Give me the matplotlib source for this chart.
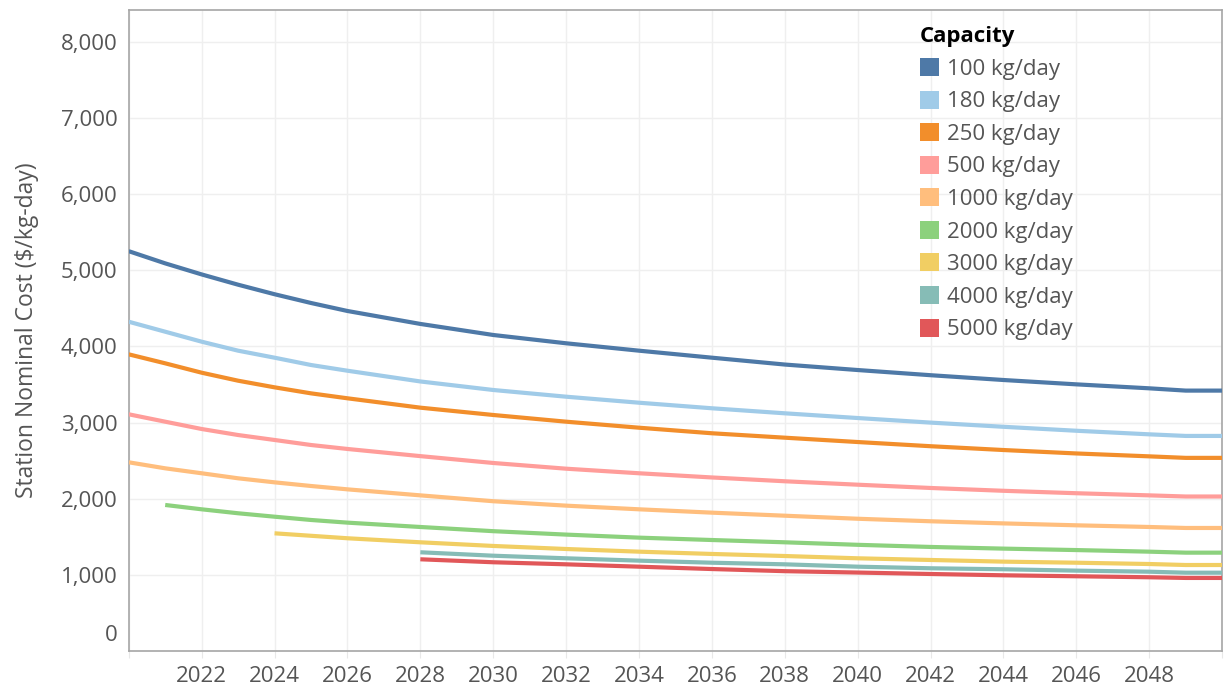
import numpy as np
import matplotlib
matplotlib.use('Agg')
from matplotlib import pyplot as plt
from matplotlib.patches import Patch
import matplotlib.transforms as mtransforms

plt.rcParams['font.family'] = ['Open Sans', 'DejaVu Sans']

# years (yearly where the curves bend most, then 2-year steps)
years_main = [2020, 2021, 2022, 2023, 2024, 2025, 2026, 2028, 2030, 2032, 2034,
              2036, 2038, 2040, 2042, 2044, 2046, 2048, 2049, 2050]
years_2000 = [2021, 2022, 2023, 2024, 2025, 2026, 2028, 2030, 2032, 2034,
              2036, 2038, 2040, 2042, 2044, 2046, 2048, 2049, 2050]
years_3000 = [2024, 2026, 2028, 2030, 2032, 2034, 2036, 2038,
              2040, 2042, 2044, 2046, 2048, 2049, 2050]
years_late = [2028, 2030, 2032, 2034, 2036, 2038,
              2040, 2042, 2044, 2046, 2048, 2049, 2050]

cost_100 = [5250, 5090, 4945, 4810, 4685, 4570, 4465, 4295, 4150, 4041, 3944,
            3852, 3762, 3690, 3622, 3559, 3502, 3450, 3420, 3420]
cost_180 = [4324, 4193, 4062, 3944, 3852, 3756, 3681, 3540, 3428, 3340, 3261,
            3188, 3122, 3060, 3000, 2945, 2893, 2846, 2825, 2825]
cost_250 = [3896, 3778, 3655, 3550, 3463, 3384, 3319, 3196, 3100, 3012, 2933,
            2860, 2802, 2745, 2690, 2640, 2595, 2557, 2537, 2537]
cost_500 = [3109, 3012, 2916, 2837, 2772, 2706, 2654, 2560, 2470, 2395, 2335,
            2280, 2230, 2185, 2142, 2105, 2073, 2045, 2030, 2030]
cost_1000 = [2479, 2400, 2335, 2269, 2216, 2168, 2124, 2045, 1968, 1910, 1862,
             1818, 1778, 1738, 1705, 1677, 1652, 1630, 1617, 1617]
cost_2000 = [1919, 1862, 1810, 1765, 1722, 1687, 1630, 1575, 1530, 1490,
             1459, 1429, 1396, 1368, 1346, 1327, 1306, 1293, 1293]
cost_3000 = [1547, 1482, 1429, 1381, 1341, 1306, 1276, 1249,
             1219, 1197, 1175, 1161, 1144, 1131, 1131]
cost_4000 = [1298, 1253, 1219, 1188, 1161, 1140,
             1109, 1088, 1075, 1057, 1043, 1030, 1030]
cost_5000 = [1206, 1167, 1140, 1109, 1078, 1050,
             1032, 1013, 996, 983, 970, 961, 961]

series = [
    ('100 kg/day', years_main, cost_100, '#4E79A7'),
    ('180 kg/day', years_main, cost_180, '#A0CBE8'),
    ('250 kg/day', years_main, cost_250, '#F28E2B'),
    ('500 kg/day', years_main, cost_500, '#FF9D9A'),
    ('1000 kg/day', years_main, cost_1000, '#FFBE7D'),
    ('2000 kg/day', years_2000, cost_2000, '#8CD17D'),
    ('3000 kg/day', years_3000, cost_3000, '#F1CE63'),
    ('4000 kg/day', years_late, cost_4000, '#86BCB6'),
    ('5000 kg/day', years_late, cost_5000, '#E15759'),
]

fig = plt.figure(figsize=(12.25, 6.92), dpi=100)
ax = fig.add_axes([0.1051, 0.0590, 0.8926, 0.9265])

for name, x, y, c in series:
    ax.plot(x, y, color=c, lw=3, solid_capstyle='butt', solid_joinstyle='round', zorder=3)

ax.set_xlim(2020, 2050)
ax.set_ylim(0, 8415)
ax.set_xticks(range(2020, 2051, 2))
ax.set_xticklabels(['' if t in (2020, 2050) else str(t) for t in range(2020, 2051, 2)])
ax.set_yticks(range(0, 8001, 1000))
ax.set_yticklabels(['{:,}'.format(v) for v in range(0, 8001, 1000)])

ax.grid(True, color='#efefef', lw=1, zorder=0)
for s in ax.spines.values():
    s.set_color('#a6a6a6')
    s.set_linewidth(1.2)

ax.tick_params(axis='x', length=5, color='#e8e8e8', pad=6, labelsize=16, labelcolor='#555555')
ax.tick_params(axis='y', length=0, pad=8, labelsize=16, labelcolor='#555555')

# Tableau nudges the bottom "0" label upward
for lab in ax.get_yticklabels():
    if lab.get_text() == '0':
        lab.set_transform(lab.get_transform() +
                          mtransforms.ScaledTranslation(0, 13 / 72, fig.dpi_scale_trans))

ax.set_ylabel('Station Nominal Cost ($/kg-day)', fontsize=16.5, color='#555555', labelpad=16)

handles = [Patch(facecolor=c, edgecolor='none') for _, _, _, c in series]
labels = [n for n, _, _, _ in series]
leg = ax.legend(handles, labels, title='Capacity', loc='upper left',
                bbox_to_anchor=(0.7237, 0.975), frameon=False, fontsize=16,
                handlelength=0.87, handleheight=0.87, handletextpad=0.35,
                labelspacing=0.49, borderpad=0, borderaxespad=0)
leg.get_title().set_fontsize(16)
leg.get_title().set_fontweight('bold')
leg._legend_box.align = 'left'
for t in leg.get_texts():
    t.set_color('#555555')

fig.savefig('out.png', dpi=100)
